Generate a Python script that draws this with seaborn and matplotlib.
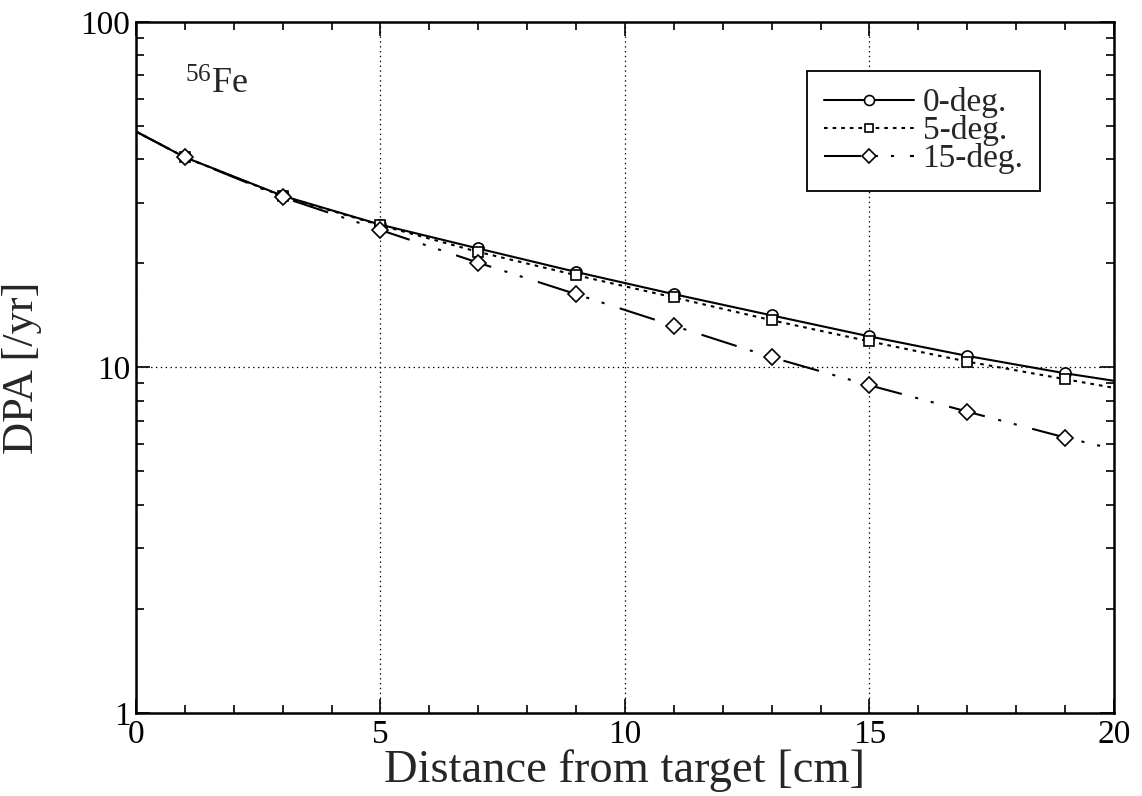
import matplotlib
matplotlib.use("Agg")
import matplotlib.pyplot as plt
from matplotlib.lines import Line2D
from matplotlib.ticker import MultipleLocator, LogLocator, NullFormatter, FuncFormatter
import seaborn as sns
import pandas as pd

# ---- data ----
distance = [0, 1, 3, 5, 7, 9, 11, 13, 15, 17, 19, 20]
dpa_0deg = [48.2, 40.6, 31.4, 25.9, 22.1, 18.9, 16.3, 14.15, 12.3, 10.8, 9.62, 9.15]
dpa_5deg = [48.2, 40.6, 31.3, 25.8, 21.6, 18.5, 15.95, 13.7, 11.9, 10.4, 9.25, 8.73]
dpa_15deg = [48.2, 40.6, 31.1, 25.0, 20.1, 16.3, 13.2, 10.7, 8.88, 7.45, 6.27, 5.80]
series_labels = ["0-deg.", "5-deg.", "15-deg."]
x_ticks = [0, 5, 10, 15, 20]
y_ticks = [1, 10, 100]

sns.set_style("ticks")
plt.rcParams["font.family"] = ["Liberation Serif", "DejaVu Serif"]
plt.rcParams["mathtext.fontset"] = "custom"
plt.rcParams["mathtext.rm"] = "Liberation Serif"
plt.rcParams["mathtext.it"] = "Liberation Serif"
plt.rcParams["lines.scale_dashes"] = False

fig = plt.figure(figsize=(11.42, 7.96), dpi=100)
ax = fig.add_axes([0.119, 0.1043, 0.8565, 0.8681])

styles = [
    dict(marker="o", ms=8, dashes=None),
    dict(marker="s", ms=7, dashes=[2.6, 3.6]),
    dict(marker="D", ms=8.2, dashes=[26.6, 10.0, 2.2, 9.4, 2.2, 11.5]),
]
values = [dpa_0deg, dpa_5deg, dpa_15deg]
handles = []
for vals, st, lab in zip(values, styles, series_labels):
    df = pd.DataFrame({"x": distance, "y": vals})
    sns.lineplot(data=df, x="x", y="y", ax=ax, color="black", linewidth=1.5,
                 marker=st["marker"], markersize=st["ms"], markerfacecolor="white",
                 markeredgecolor="black", markeredgewidth=1.2,
                 markevery=list(range(1, len(distance) - 1)), estimator=None,
                 legend=False)
    ln = ax.get_lines()[-1]
    if st["dashes"] is not None:
        ln.set_dashes(st["dashes"])
    h = Line2D([0], [0], color="black", linewidth=1.5, marker=st["marker"],
               markersize=st["ms"] * 0.9, markerfacecolor="white",
               markeredgecolor="black", markeredgewidth=1.2)
    if st["dashes"] is not None:
        h.set_dashes(st["dashes"])
    handles.append(h)

ax.set_yscale("log")
ax.set_xlim(0, 20)
ax.set_ylim(1, 100)
ax.set_xticks(x_ticks)
ax.xaxis.set_minor_locator(MultipleLocator(1))
ax.set_yticks(y_ticks)
ax.yaxis.set_minor_locator(LogLocator(base=10, subs=range(2, 10)))
ax.yaxis.set_minor_formatter(NullFormatter())
ax.yaxis.set_major_formatter(FuncFormatter(lambda v, p: f"{v:g}"))
ax.xaxis.set_major_formatter(FuncFormatter(lambda v, p: f"{v:g}"))

ax.grid(which="major", linestyle=(0, (1, 2.5)), color="black", linewidth=0.9)
ax.tick_params(which="both", direction="in", top=True, right=True, width=1.2,
               colors="black", labelsize=24)
ax.tick_params(which="major", length=10)
ax.tick_params(which="minor", length=6)
ax.tick_params(axis="x", pad=5)
ax.tick_params(axis="y", pad=4)
for sp in ax.spines.values():
    sp.set_linewidth(1.8)
    sp.set_color("black")

ax.set_xlabel("Distance from target [cm]", fontsize=33.5)
ax.set_ylabel("DPA [/yr]", fontsize=32)
ax.xaxis.set_label_coords(0.5, -0.053)
ax.yaxis.set_label_coords(-0.096, 0.5)

ax.text(0.050, 0.896, r"$^{56}$Fe", transform=ax.transAxes, fontsize=26,
        ha="left", va="baseline")

leg = ax.legend(handles, series_labels, loc="upper left",
                bbox_to_anchor=(0.686, 0.9295), borderaxespad=0,
                fontsize=24, handlelength=2.7, handletextpad=0.27,
                labelspacing=-0.09, borderpad=0.5, fancybox=False,
                framealpha=1, edgecolor="black")
leg.get_frame().set_linewidth(1.3)

fig.savefig("out.png", dpi=100, facecolor="white")
